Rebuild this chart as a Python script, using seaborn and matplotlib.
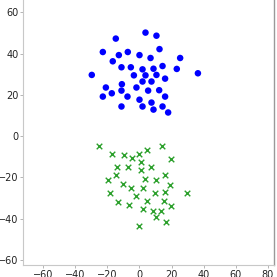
import matplotlib
matplotlib.use("Agg")
import matplotlib.pyplot as plt
import seaborn as sns
import pandas as pd

blue_x = [3.75, 10.6, -14.8, 12.5, -22.9, -7.3, -12.9, 0, 6.9, 25.4, -16.7, -11.25, -5.4, 1.9, 8.75,
          14.4, 23.3, 36.5, -29.8, -3.5, 3.75, 10.6, 16.0, 1.9, 7.5, -11.0, -21.0, -1.9, -11.25, 5.4,
          12.3, -17.3, -22.9, -7.5, 16.0, 0, 7.5, -11.25, 1.9, 14.4, 8.75, 17.9]
blue_y = [50.2, 48.7, 47.3, 42.2, 40.8, 40.8, 39.3, 39.3, 37.9, 37.9, 36.3, 33.4, 33.4, 32.4, 32.7,
          34.0, 32.6, 30.5, 29.7, 29.5, 29.5, 29.7, 27.9, 26.5, 26.5, 25.2, 23.6, 23.6, 22.1, 22.1,
          22.3, 20.8, 19.2, 19.2, 19.2, 17.7, 16.3, 14.4, 14.4, 14.4, 12.9, 11.5]
green_x = [-25.2, 14.2, -17.3, -9.4, -0.6, 5, -4.8, 19.8, 1.25, -14.2, -6.9, 7.5, 1.25, -14.4, 16.0,
           -19.4, 3.75, 10.6, -10.4, 18.9, -5.6, 1.9, -18.5, 10, 16.0, 29.6, -1.9, 5, 15.4, -13.3,
           -6.7, 19.8, 2.5, 8.75, 13.75, 10.6, 16.7, 0]
green_y = [-4.5, -4.5, -8.5, -8.9, -8.5, -6.8, -10.5, -11.0, -12.6, -14.7, -14.8, -14.8, -16.6, -19.0, -18.7,
           -21.0, -20.8, -21.0, -23.2, -23.7, -25.2, -25.2, -27.7, -27.7, -27.2, -27.7, -29.2, -31.3, -31.3, -32.1,
           -33.4, -33.9, -35.3, -36.0, -36.0, -39.3, -41.6, -43.5]

x_ticks = [-60, -40, -20, 0, 20, 40, 60, 80]
y_ticks = [-60, -40, -20, 0, 20, 40, 60]

sns.set_style("ticks")
fig = plt.figure(figsize=(2.77, 2.77), dpi=100)
ax = fig.add_axes([0.084, 0.0433, 0.905, 0.9567])

sns.scatterplot(x=blue_x, y=blue_y, ax=ax, color="blue", marker="o", s=22, edgecolor="none")
sns.scatterplot(x=green_x, y=green_y, ax=ax, color="#2ca02c", marker="x", s=16, linewidth=1.0)

ax.set_xlim(-72.6, 84)
ax.set_ylim(-62.4, 66)
ax.set_xticks(x_ticks)
ax.set_yticks(y_ticks)
ax.tick_params(labelsize=7, length=2, width=0.6, color="#aaaaaa", labelcolor="#222222", pad=1.5)
ax.spines["top"].set_visible(False)
for s in ["left", "bottom"]:
    ax.spines[s].set_color("#c8c8c8")
    ax.spines[s].set_linewidth(0.8)
ax.spines["right"].set_color("#999999")
ax.spines["right"].set_linewidth(1.0)

fig.savefig("out.png", dpi=100)
